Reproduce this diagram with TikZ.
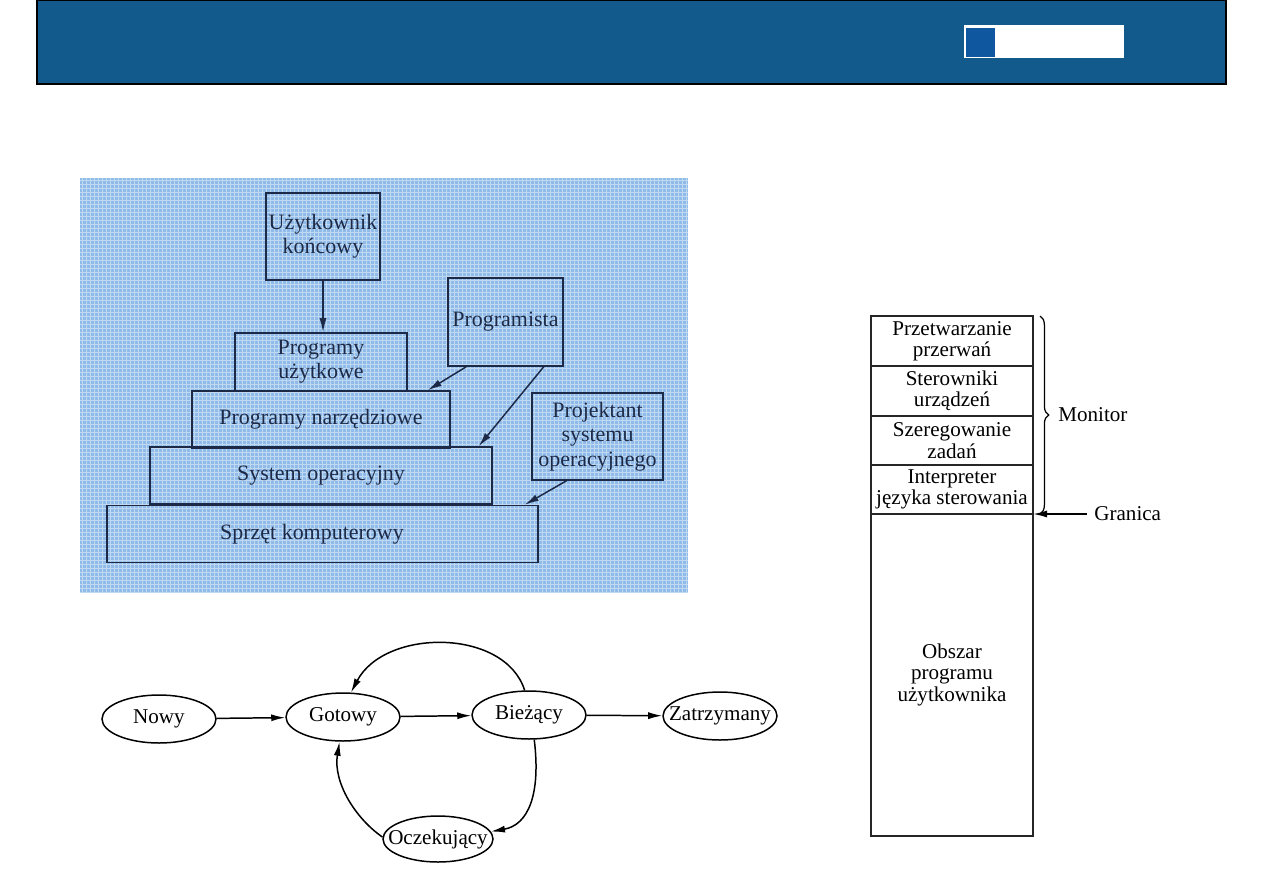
\documentclass[tikz,border=0pt]{standalone}
\usepackage{fontspec}
\setmainfont{Liberation Serif}
\usepackage{tikz}
\usetikzlibrary{positioning,arrows.meta,shapes.geometric,calc,decorations.pathreplacing}
\definecolor{header}{HTML}{135A8C}
\definecolor{badge}{HTML}{0F58A0}
\definecolor{paper}{HTML}{90BAE8}
\definecolor{gridline}{HTML}{C0D9F3}
\definecolor{ink}{HTML}{1C2A48}

\begin{document}
\begin{tikzpicture}[x=0.02cm,y=-0.02cm,font=\fontsize{12}{13.6}\selectfont,
    arr/.style={-{Latex[length=8pt,width=4pt]}},
    layer/.style={draw=ink,line width=0.85pt,text=ink,align=center,inner sep=0pt,
      font=\fontsize{12.5}{13.8}\selectfont},
    state/.style={draw,ellipse,line width=0.85pt,minimum width=2.28cm,minimum height=0.96cm,
      inner xsep=-12pt,inner ysep=0pt},
    slot/.style={draw=black!85,line width=0.85pt,align=center,minimum width=3.24cm,inner sep=0pt,
      outer sep=0pt,font=\fontsize{12}{12.2}\selectfont}]
  \useasboundingbox (0,0) rectangle (1263,893);
  % title bar
  \fill[header] (37,0) rectangle (1226,84);
  \draw[black,line width=0.6pt] (37,0) rectangle (1226,84);
  \fill[white] (964,25) rectangle (1124,58);
  \fill[badge] (966,28) rectangle (995,57);

  % layers of a computer system
  \fill[paper] (80,178) rectangle (688,593);
  \foreach \gx in {82,86,...,686} \draw[gridline,line width=0.4pt] (\gx,178) -- (\gx,593);
  \foreach \gy in {180,184,...,592} \draw[gridline,line width=0.4pt] (80,\gy) -- (688,\gy);
  \node[layer,minimum width=2.28cm,minimum height=1.74cm] (user) at (323,236.5) {Użytkownik\\końcowy};
  \node[layer,minimum width=3.44cm,minimum height=1.16cm] (apps) at (321,362) {Programy\\użytkowe};
  \node[layer,minimum width=5.16cm,minimum height=1.14cm] (tools) at (321,419.5) {Programy narzędziowe};
  \node[layer,minimum width=6.84cm,minimum height=1.14cm] (os) at (321,475.5) {System operacyjny};
  \node[layer,minimum width=8.62cm,minimum height=1.14cm] (hw) at (322.5,534) {Sprzęt komputerowy\hspace*{12pt}};
  \node[layer,minimum width=2.30cm,minimum height=1.76cm] (prog) at (505.5,322) {Programista};
  \node[layer,minimum width=2.62cm,minimum height=1.74cm] (osdev) at (597.5,436.5) {Projektant\\systemu\\operacyjnego};
  \draw[arr,ink,line width=0.85pt] (user.south) -- (user.south |- apps.north);
  \draw[arr,ink,line width=0.85pt] ($(prog.south west)+(19,0)$) -- ($(tools.north east)+(-23,0)$);
  \draw[arr,ink,line width=0.85pt] ($(prog.south east)+(-20,0)$) -- ($(os.north east)+(-14,0)$);
  \draw[arr,ink,line width=0.85pt] ($(osdev.south)+(-31,0)$) -- ($(hw.north east)+(-14,0)$);

  % process states
  \node[state] (new) at (159,719) {Nowy};
  \node[state] (ready) at (343,717) {Gotowy};
  \node[state] (run) at (529,715) {Bieżący};
  \node[state] (halt) at (720,716) {Zatrzymany};
  \node[state,minimum width=2.2cm,minimum height=0.92cm] (wait) at (438,839) {Oczekujący};
  \draw[arr,line width=0.85pt] (new) -- (ready);
  \draw[arr,line width=0.85pt] (ready) -- (run);
  \draw[arr,line width=0.85pt] (run) -- (halt);
  \draw[arr,line width=0.85pt] (run.100) .. controls (505,628) and (385,628) .. (ready.72);
  \draw[arr,line width=0.85pt] (run.-78) .. controls (541,795) and (528,825) .. (wait.8);
  \draw[arr,line width=0.85pt] (wait.178) .. controls (355,818) and (333,782) .. (ready.-98);

  % resident monitor
  \node[slot,minimum height=1.0cm] (irq) at (952,341) {Przetwarzanie\\przerwań};
  \node[slot,minimum height=1.0cm,below=0pt of irq] (drv) {Sterowniki\\urządzeń};
  \node[slot,minimum height=0.98cm,below=0pt of drv] (sched) {Szeregowanie\\zadań};
  \node[slot,minimum height=0.98cm,below=0pt of sched] (cli) {Interpreter\\języka sterowania};
  \node[slot,minimum height=6.44cm,below=0pt of cli] (area) {Obszar\\programu\\użytkownika};
  \coordinate (bt) at ($(irq.north east)+(7,0)$);
  \coordinate (bb) at ($(cli.south east)+(7,0)$);
  \draw[line width=0.7pt,decorate,decoration={brace,amplitude=5pt}] (bt) -- (bb);
  \node[anchor=west,inner sep=0pt] (monitor) at (1058,415) {Monitor};
  \node[anchor=west,inner sep=0pt] (granica) at (1094,514) {Granica};
  \draw[arr,line width=0.85pt] ([xshift=-4pt]granica.west) -- (granica.west -| cli.east);
\end{tikzpicture}
\end{document}
